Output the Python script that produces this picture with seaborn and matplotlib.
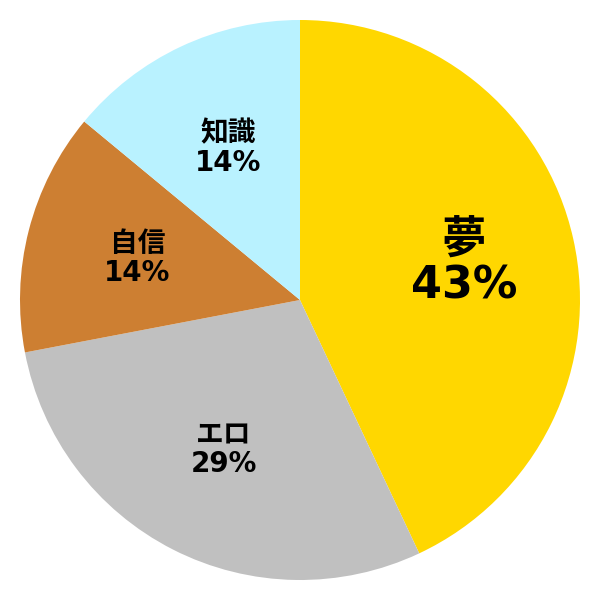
import matplotlib
matplotlib.use("Agg")
import matplotlib.pyplot as plt
import seaborn as sns

categories = ["夢", "エロ", "自信", "知識"]
values = [43, 29, 14, 14]
colors = ["#FFD700", "#C0C0C0", "#CD7F32", "#B9F2FF"]
label_sizes = [32, 20, 20, 20]

sns.set_theme(style="white")
plt.rcParams['font.family'] = ['DejaVu Sans', 'Noto Sans CJK JP']

fig = plt.figure(figsize=(6, 6), dpi=100)
ax = fig.add_axes([0, 0, 1, 1])

it = iter(categories)
def fmt(p):
    return f"{next(it)}\n{p:.0f}%"

wedges, texts, autotexts = ax.pie(
    values, colors=colors, startangle=90, counterclock=False,
    autopct=fmt, pctdistance=0.6, radius=1.0,
    wedgeprops=dict(linewidth=0),
    textprops=dict(fontweight='bold', color='black', ha='center', va='center',
                   family=['DejaVu Sans', 'Noto Sans CJK JP'], linespacing=1.05),
)
for t, s in zip(autotexts, label_sizes):
    t.set_fontsize(s)

lim = 300 / 280
ax.set_xlim(-lim, lim)
ax.set_ylim(-lim, lim)
ax.set_aspect('equal')
ax.axis('off')
fig.savefig("out.png", dpi=100, facecolor='white')
